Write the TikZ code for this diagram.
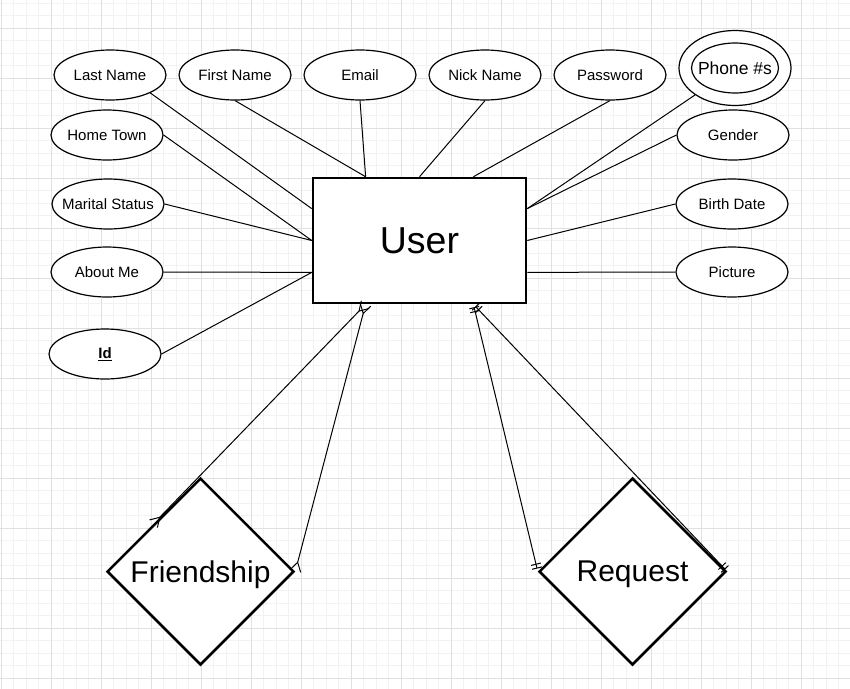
\documentclass[tikz,border=0pt]{standalone}
\usepackage{fontspec}
\setmainfont{Liberation Sans}
\usepackage{tikz}
\usetikzlibrary{arrows.meta,shapes,calc}
\tikzset{
  crow/.tip = {Straight Barb[reversed,length=9pt,width=11pt]},
  mand/.tip = {Bar[width=10pt,sep=3pt]Bar[width=10pt,sep=3pt]},
  all/.style  = {align=center},
  basic/.style  = {all, draw, fill=white, inner sep=0pt},
  attr/.style = {basic, ellipse, line width=1.2pt, inner xsep=-20pt, minimum width=112pt, minimum height=50pt, font=\fontsize{15}{18}\selectfont},
  entity/.style = {basic, rectangle, line width=2.5pt, minimum width=213pt, minimum height=125pt, text depth=0pt, font=\fontsize{37.5}{45}\selectfont},
  relship/.style = {basic, diamond, line width=2.5pt, minimum width=187pt, minimum height=187pt, text depth=0pt, font=\fontsize{30}{36}\selectfont},
  link/.style = {line width=1pt},
  many/.style = {link, crow-crow},
  one/.style = {link, mand-mand},
  gridminor/.style = {draw=black!5, line width=0.6pt},
  gridmajor/.style = {draw=black!12, line width=0.9pt}
}

\begin{document}
\begin{tikzpicture}[x=1pt,y=-1pt]
\useasboundingbox (0,0) rectangle (850,688);
\clip (0,0) rectangle (850,688);
\fill[white] (0,0) rectangle (850,688);
% background grid
\draw[gridminor, shift={(1,3)}] (-25,-25) grid[step=12.5pt] (875,700);
\draw[gridmajor, shift={(1,28)}] (-50,-50) grid[step=50pt] (900,750);

% attributes, top row
\node[attr] (lastname) at (110,75) {Last Name};
\node[attr] (firstname) at (235,75) {First Name};
\node[attr] (email) at (360,75) {Email};
\node[attr] (nickname) at (485,75) {Nick Name};
\node[attr] (password) at (610,75) {Password};
\node[attr, minimum height=75pt] (phoneout) at (735,68) {};
\node[attr, minimum width=87pt, font=\fontsize{17.5}{21}\selectfont] (phone) at (735,68) {Phone \#s};
% attributes, left and right
\node[attr] (hometown) at (107,135) {Home Town};
\node[attr] (marital) at (108,204) {Marital Status};
\node[attr] (aboutme) at (107,272) {About Me};
\node[attr] (id) at (105,354) {\textbf{\underline{Id}}};
\node[attr] (gender) at (733,135) {Gender};
\node[attr] (birthdate) at (732,204) {Birth Date};
\node[attr] (picture) at (732,272) {Picture};

% entity and relationships
\node[entity] (user) at (419.5,240.5) {User};
\node[relship] (friendship) at (200.5,571.5) {Friendship};
\node[relship] (request) at (632.5,571.5) {Request};

\coordinate (ut1) at ($(user.north west)!.25!(user.north east)$);
\coordinate (ut3) at ($(user.north west)!.75!(user.north east)$);
\coordinate (ul1) at ($(user.north west)!.25!(user.south west)$);
\coordinate (ul3) at ($(user.north west)!.75!(user.south west)$);
\coordinate (ur1) at ($(user.north east)!.25!(user.south east)$);
\coordinate (ur3) at ($(user.north east)!.75!(user.south east)$);
\coordinate (ub1) at ($(user.south west)!.25!(user.south east)$);
\coordinate (ub3) at ($(user.south west)!.75!(user.south east)$);

\draw[link] (lastname.-24) -- (ul1);
\draw[link] (firstname.south) -- (ut1);
\draw[link] (email.south) -- (ut1);
\draw[link] (nickname.south) -- (user.north);
\draw[link] (password.south) -- (ut3);
\draw[link] (phoneout.-146) -- (ur1);
\draw[link] (gender.west) -- (ur1);
\draw[link] (birthdate.west) -- (user.east);
\draw[link] (picture.west) -- (ur3);
\draw[link] (hometown.east) -- (user.west);
\draw[link] (marital.east) -- (user.west);
\draw[link] (aboutme.east) -- (ul3);
\draw[link] (id.east) -- (ul3);

%% friendship: many to many, request: one to one
\draw[many] (ub1) -- (friendship.north west);
\draw[many] (ub1) -- (friendship.east);
\draw[one] (ub3) -- (request.west);
\draw[one] (ub3) -- (request.east);

\end{tikzpicture}
\end{document}
